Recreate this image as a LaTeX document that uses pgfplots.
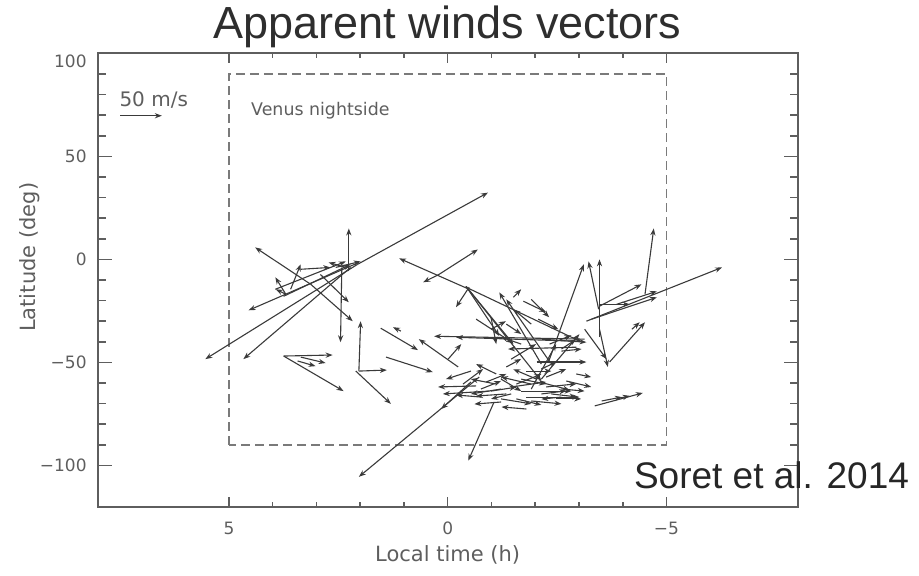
\documentclass[border=0pt]{standalone}
\usepackage{pgfplots}
\pgfplotsset{compat=1.18}
\usepackage{fontspec}
\setmainfont{DejaVu Sans}
\newfontfamily\helv{Liberation Sans}
\usetikzlibrary{arrows.meta}
\definecolor{axgray}{HTML}{5E5E5E}
\definecolor{arrowgray}{HTML}{3A3A3A}
\definecolor{boxgray}{HTML}{7A7A7A}

\begin{document}
\begin{tikzpicture}
\begin{axis}[
  scale only axis, width=350pt, height=226.7pt,
  xmin=-8, xmax=8, ymin=-120, ymax=100, x dir=reverse,
  xtick={-5,0,5}, xticklabels={−5,0,5},
  ytick={-100,-50,0,50,100},
  yticklabels={−100,−50,0,50,\raisebox{-4pt}[\height][\depth]{100}},
  minor x tick num=4, minor y tick num=4,
  tick align=inside,
  major tick length=7pt, minor tick length=4pt,
  xtick style={/pgfplots/major tick length=4.7pt, /pgfplots/minor tick length=2.3pt},
  axis line style={axgray, line width=1pt},
  every tick/.style={axgray, line width=0.8pt},
  tick label style={text=axgray, font=\fontsize{8.5}{10}\selectfont},
  yticklabel style={xshift=-2pt},
  xticklabel style={yshift=-4pt},
  xlabel={Local time (h)}, ylabel={Latitude (deg)},
  label style={text=axgray, font=\fontsize{10.5}{12}\selectfont},
  xlabel style={at={(axis description cs:0.5,-0.106)}, anchor=center},
  ylabel style={at={(axis description cs:-0.097,0.55)}, anchor=center},
  clip=false,
]
% night side box
\draw[boxgray, line width=0.9pt, dash pattern=on 4.4pt off 2.6pt] (axis cs:5,-90) rectangle (axis cs:-5,90);

% scale arrow, 50 m/s
\addplot[arrowgray, line width=0.6pt, -{Stealth[length=3.5pt,width=2.6pt]},
  quiver={u=\thisrow{u}, v=\thisrow{v}}] table {
x y u v
7.49 69.7 -0.956 0
};

% wind vectors: tail (x,y) in h/deg, displacement (u,v)
\addplot[arrowgray, line width=0.55pt, -{Stealth[length=3.5pt,width=2.6pt]},
  quiver={u=\thisrow{u}, v=\thisrow{v}}] table {
x y u v
2.06 -2.4 -2.98 34.8
2.06 -2.4 3.48 -46.0
2.22 -3.9 2.45 -44.5
2.03 -1.5 2.52 -23.2
3.13 -12.1 1.27 17.9
3.13 -12.1 -0.96 -17.9
2.26 -5.8 0 20.8
2.42 -3.9 0.03 -36.3
2.91 -7.3 -0.65 -13.5
3.59 -14.5 -0.23 12.1
3.70 -16.9 0.24 8.2
3.70 -16.9 0.23 2.4
3.75 -17.9 -1.53 15.5
3.94 -14.5 -1.61 13.5
3.36 -4.8 -0.68 0.9
2.33 -3.9 0.39 2.4
2.56 -3.9 -0.57 2.9
3.75 -46.9 -1.12 0.5
3.75 -46.9 -1.37 -17.0
3.43 -49.3 -0.41 -2.5
3.36 -47.4 -0.57 -2.9
2.03 -54.2 -0.04 24.2
2.03 -54.2 -0.64 0.5
2.10 -54.2 -0.80 -15.9
1.53 -33.4 -0.85 -10.6
1.41 -47.4 -1.07 -7.3
-0.24 -52.2 0.90 13.5
1.07 -34.8 0.18 1.9
0.20 -7.3 -0.89 12.1
0.20 -7.3 0.36 -3.8
-0.49 -14.5 1.60 15.0
-0.49 -13.5 0.30 -9.7
-0.42 -13.1 -0.76 -24.1
-0.42 -13.1 -1.08 -28.0
-0.42 -13.1 -1.72 -45.9
-0.47 -14.0 -2.60 -26.2
-0.65 -29.0 -0.85 -11.7
-0.99 -28.1 -0.12 -13.0
-0.72 -57.1 2.75 -48.4
-0.53 -59.5 0.68 -13.1
-1.06 -69.2 0.59 -28.5
-1.22 -69.2 0.61 -1.0
-0.01 -48.4 -0.30 7.3
-0.35 -60.5 -0.46 7.3
-0.65 -61.4 0.87 -0.5
-0.95 -63.9 1.06 -1.4
-3.13 -38.7 3.44 1.4
-2.94 -39.7 2.75 1.9
-2.94 -42.6 1.56 -0.9
-2.14 -50.8 0.96 34.8
-2.32 -49.3 0.98 29.9
-2.30 -50.0 -0.81 47.6
-2.14 -58.1 -0.87 21.8
-1.91 -62.9 -0.57 21.8
-1.50 -18.4 -0.18 3.9
-1.73 -20.3 -0.52 -5.3
-2.07 -29.0 -0.46 -4.9
-1.91 -31.4 0.41 7.2
-2.33 -41.1 -0.50 4.3
-2.60 -43.5 -0.34 4.8
-1.45 -61.9 -0.80 2.4
-1.68 -63.9 -1.15 0
-1.80 -66.8 -1.21 0
-2.14 -65.3 -0.57 1.5
-1.91 -68.7 -0.69 -1.4
-1.34 -65.3 0.69 -1.0
-1.22 -62.9 0.69 -2.4
-1.11 -60.5 0.58 2.4
-1.57 -60.5 -0.57 4.8
-1.22 -67.7 -0.69 -2.4
-0.99 -63.9 -0.58 1.9
-1.68 -58.1 -0.57 -2.4
-0.88 -59.5 -0.46 3.9
-1.91 -60.5 0.69 3.4
-2.03 -58.1 0.53 4.8
-2.37 -65.3 -0.57 -1.4
-1.45 -65.3 0.46 -2.4
-0.76 -62.9 -0.46 3.9
-2.25 -61.9 -0.69 1.5
-1.80 -54.2 -0.57 0
-1.34 -52.2 -0.34 3.9
-2.14 -53.2 -0.34 3.4
-1.11 -55.6 0.46 4.8
-1.57 -67.7 -0.57 -2.9
-2.48 -67.7 -0.57 0
-2.60 -62.9 -0.53 -1.0
-0.53 -54.2 0.57 -3.9
-1.22 -58.1 -0.46 -5.8
-2.25 -57.1 -0.46 3.9
-0.76 -66.8 0.57 1.0
-2.60 -66.8 0.46 -1.0
-1.91 -19.4 -0.41 -8.7
-1.34 -31.4 -0.34 -4.8
-0.99 -33.9 -0.34 3.9
-1.68 -41.1 0.46 3.4
-1.45 -48.4 -0.57 7.3
-1.80 -72.6 0.57 1.0
-2.71 -59.0 -0.57 -2.9
-2.94 -55.6 -0.34 -1.5
-3.45 -24.2 0.23 23.2
-3.47 -37.7 0 37.7
-4.51 -16.9 -0.20 31.9
-3.17 -30.0 -3.10 26.1
-3.47 -22.7 -0.96 10.6
-3.47 -21.8 -0.69 0
-3.86 -21.8 -0.92 6.3
-3.29 -29.0 -1.49 10.6
-3.70 -49.8 -0.81 19.3
-3.47 -33.9 -0.19 -18.3
-3.13 -33.9 -0.50 -14.5
-3.36 -71.1 -1.10 6.3
-3.52 -68.7 -0.46 1.9
-3.86 -67.7 -0.30 1.5
-2.03 -49.8 -1.14 0
-2.14 -38.7 -1.03 -1.5
-2.60 -44.5 -0.46 1.0
-2.19 -60.0 -0.60 -3.4
-4.21 -33.9 -0.18 3.4
};

\node[inner sep=0pt, anchor=base west, text=axgray, font=\fontsize{10}{12}\selectfont] at (axis cs:7.51,74.2) {50 m/s};
\node[inner sep=0pt, anchor=base west, text=axgray, font=\fontsize{8.7}{10}\selectfont] at (axis cs:4.50,69.7) {Venus nightside};
\node[anchor=base, text=black!82, font=\helv\fontsize{22.5}{26}\selectfont] at ([yshift=7.6pt]axis description cs:0.5,1) {Apparent winds vectors};
\node[inner sep=0pt, anchor=base west, text=black!85, font=\helv\fontsize{18.5}{22}\selectfont] at (axis cs:-4.25,-111.3) {Soret et al. 2014};
\end{axis}
\pgfresetboundingbox
\path (current axis.south west) ++(-48.85pt,-34.65pt) rectangle ++(459.5pt,288pt);
\end{tikzpicture}
\end{document}
